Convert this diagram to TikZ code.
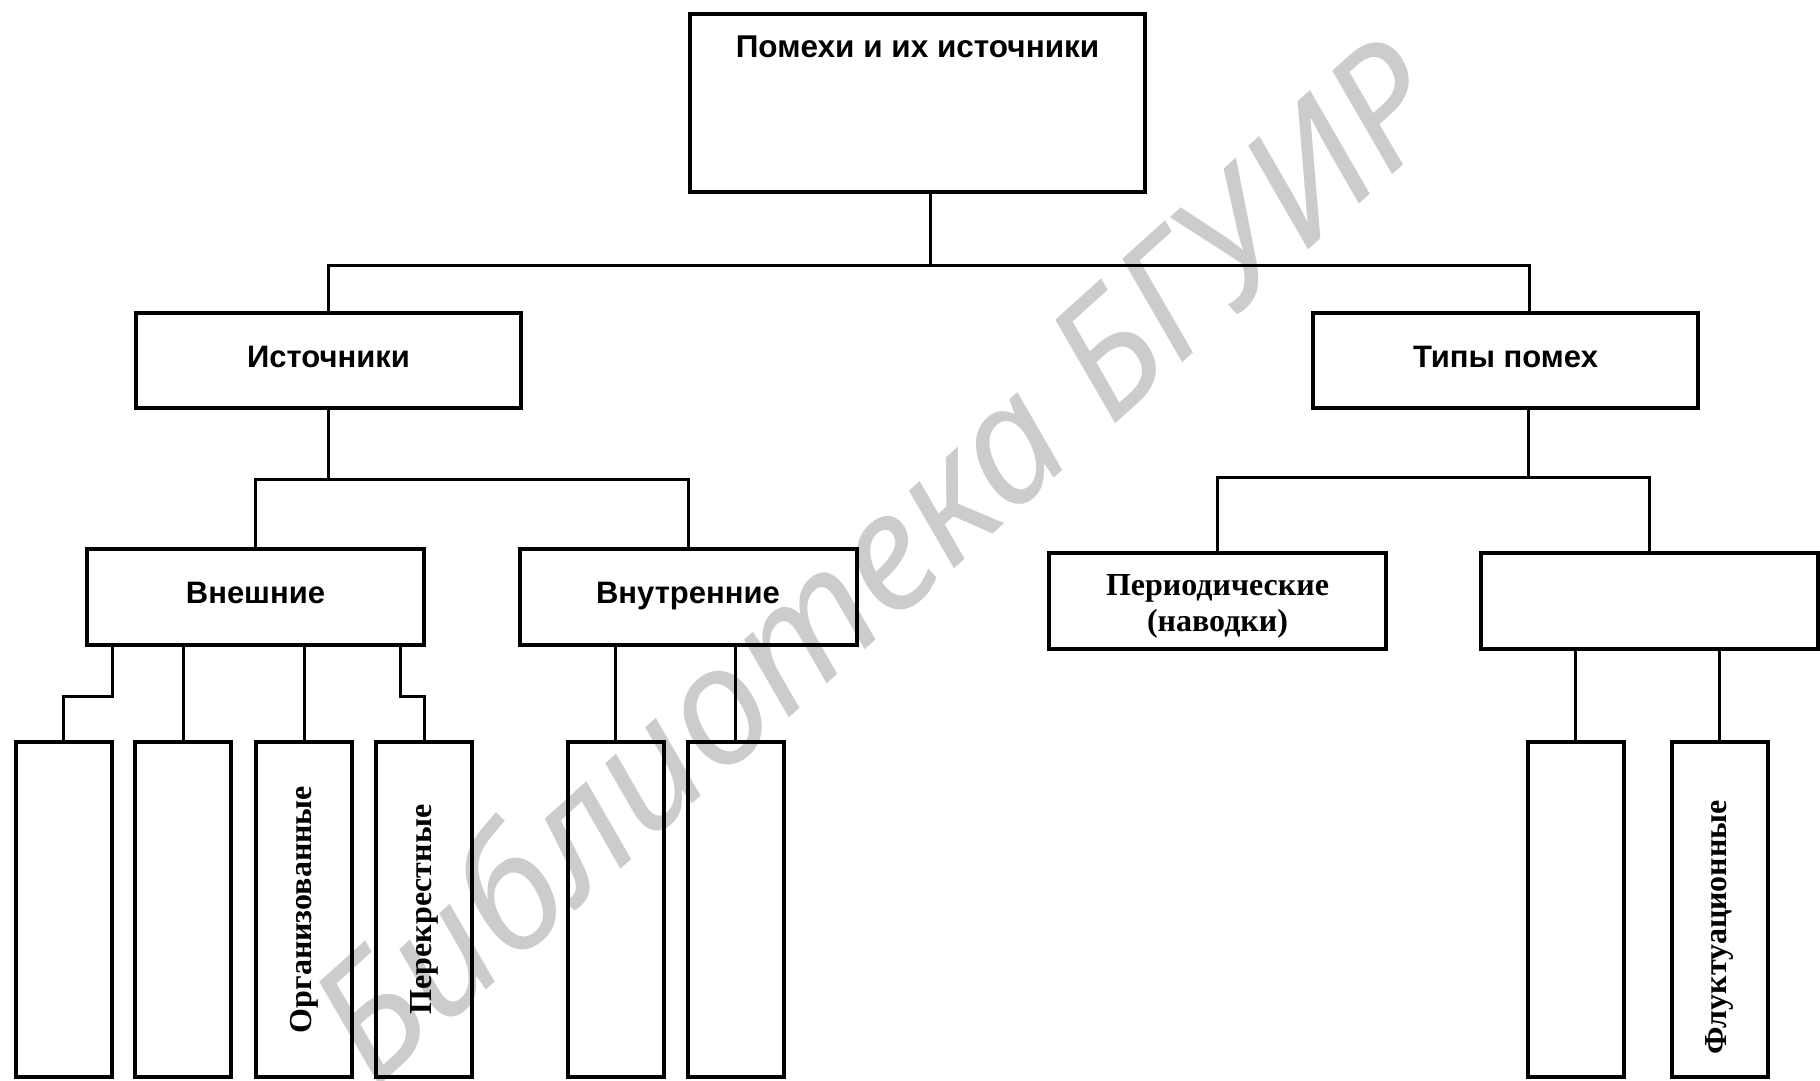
\documentclass[tikz,border=0pt]{standalone}
\usepackage{fontspec}
\setmainfont{Liberation Serif}
\newfontfamily\headfont{Liberation Sans}
\newfontfamily\stampfont{Noto Sans}
\usepackage{tikz}

\tikzset{
    wide/.style={draw=black, line width=4pt, inner sep=0pt, minimum width=337pt, minimum height=96pt,
        text height=22pt, text depth=9pt, font=\headfont\bfseries\fontsize{31}{37}\selectfont},
    tall/.style={draw=black, line width=4pt, inner sep=0pt, minimum width=96pt, minimum height=335pt},
    vtext/.style={rotate=90, font=\bfseries\fontsize{32}{38}\selectfont},
    link/.style={black, line width=3pt},
}

\begin{document}
\begin{tikzpicture}[x=1pt, y=-1pt]
        \useasboundingbox (0,0) rectangle (1820,1080);

        % library stamp
        \node[rotate=42, text=black!20, font=\stampfont\itshape\fontsize{164}{164}\selectfont] (stamp) at (874,558) {Библиотека БГУИР};

        \node[draw=black, line width=4pt, minimum width=455pt, minimum height=178pt] (top) at (917.5,103) {};
        \node[anchor=base, font=\headfont\bfseries\fontsize{31.5}{38}\selectfont] (toptext) at (917.5,57) {Помехи и их источники};

        \node[wide, minimum width=385pt, minimum height=95pt] (src) at (328.5,360.5) {Источники};
        \node[wide, minimum width=385pt, minimum height=95pt] (kind) at (1505.5,360.5) {Типы помех};

        \node[wide] (ext) at (255.5,597) {Внешние};
        \node[wide] (int) at (688,597) {Внутренние};
        \node[wide] (per) at (1217.5,600.5) {};
        \node[align=center, font=\bfseries\fontsize{32}{36}\selectfont] (pertext) at ([yshift=-6pt]per.center) {Периодические\\(наводки)};
        \node[wide] (other) at (1649,600.5) {};

        \node[tall] (b1) at (63.5,909.5) {};
        \node[tall] (b2) at (183,909.5) {};
        \node[tall] (b3) at (304,909.5) {};
        \node[tall] (b4) at (424,909.5) {};
        \node[tall] (b5) at (615.5,909.5) {};
        \node[tall] (b6) at (735.5,909.5) {};
        \node[tall] (b7) at (1575.5,909.5) {};
        \node[tall] (b8) at (1719.5,909.5) {};

        \node[vtext] (org) at (b3) {Организованные};
        \node[vtext] (cross) at (b4) {Перекрестные};
        \node[vtext] (fluct) at (1719.5,927) {Флуктуационные};

        \coordinate (j1) at (930,265);
        \coordinate (j2) at (328.5,479);
        \coordinate (j3) at (1528,477);

        \draw[link] (top.south -| j1) -- (j1);
        \draw[link] (src.north) |- (j1) -| ([xshift=23.5pt]kind.north);
        \draw[link] (src.south) -- (j2);
        \draw[link] (ext.north) |- (j2) -| (int.north);
        \draw[link] (kind.south -| j3) -- (j3);
        \draw[link] (per.north) |- (j3) -| (other.north);

        \draw[link] ([xshift=-143.5pt]ext.south) -- ++(0,49) -| (b1.north);
        \draw[link] (ext.south -| b2.north) -- (b2.north);
        \draw[link] (ext.south -| b3.north) -- (b3.north);
        \draw[link] ([xshift=144.5pt]ext.south) -- ++(0,49) -| (b4.north);
        \draw[link] (int.south -| b5.north) -- (b5.north);
        \draw[link] (int.south -| b6.north) -- (b6.north);
        \draw[link] (other.south -| b7.north) -- (b7.north);
        \draw[link] (other.south -| b8.north) -- (b8.north);
    \end{tikzpicture}
\end{document}
